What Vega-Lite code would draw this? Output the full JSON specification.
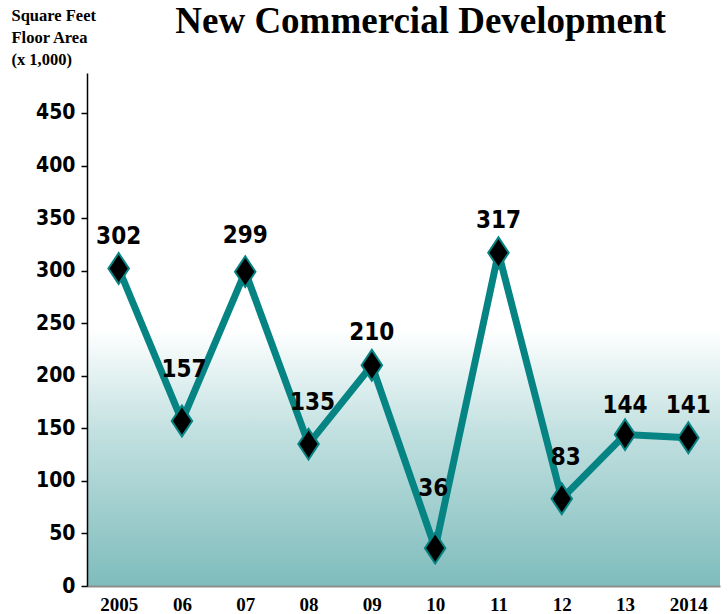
{
  "$schema": "https://vega.github.io/schema/vega-lite/v6.json",
  "autosize": "none",
  "width": 633,
  "height": 513,
  "padding": {"left": 87, "top": 73, "right": 8, "bottom": 28},
  "background": "white",
  "title": {
    "text": "New Commercial Development",
    "font": "Liberation Serif",
    "fontSize": 37,
    "fontWeight": "bold",
    "color": "black",
    "anchor": "middle",
    "dx": 17,
    "dy": 34,
    "offset": 0
  },
  "config": {
    "view": {
      "stroke": null,
      "fill": {
        "gradient": "linear",
        "x1": 0, "y1": 0, "x2": 0, "y2": 1,
        "stops": [
          {"offset": 0, "color": "#ffffff"},
          {"offset": 0.5, "color": "#ffffff"},
          {"offset": 0.7, "color": "#c2e0e0"},
          {"offset": 1, "color": "#7fbcbc"}
        ]
      }
    },
    "text": {
      "baseline": "middle",
      "font": "DejaVu Sans Condensed, Liberation Sans Narrow, sans-serif",
      "fontSize": 24,
      "fontWeight": "bold",
      "color": "black"
    }
  },
  "data": {
    "values": [
      {"year": "2005", "value": 302},
      {"year": "06", "value": 157},
      {"year": "07", "value": 299},
      {"year": "08", "value": 135},
      {"year": "09", "value": 210},
      {"year": "10", "value": 36},
      {"year": "11", "value": 317},
      {"year": "12", "value": 83},
      {"year": "13", "value": 144},
      {"year": "2014", "value": 141}
    ]
  },
  "encoding": {
    "x": {
      "field": "year",
      "type": "ordinal",
      "sort": null,
      "scale": {"type": "point", "padding": 0.5},
      "axis": {
        "title": null,
        "labelAngle": 0,
        "labelFont": "Liberation Serif",
        "labelFontSize": 19,
        "labelFontWeight": "bold",
        "labelColor": "black",
        "labelPadding": 9,
        "ticks": false,
        "domainColor": "#8c8c8c",
        "domainWidth": 2,
        "grid": false
      }
    },
    "y": {
      "field": "value",
      "type": "quantitative",
      "scale": {"domain": [0, 488], "nice": false},
      "axis": {
        "values": [0, 50, 100, 150, 200, 250, 300, 350, 400, 450],
        "grid": false,
        "title": ["Square Feet", "Floor Area", "\u00a0\u00a0(x 1,000)"],
        "titleFont": "Liberation Serif",
        "titleFontSize": 16.5,
        "titleFontWeight": "bold",
        "titleColor": "black",
        "titleAngle": 0,
        "titleAlign": "left",
        "titleBaseline": "top",
        "titleX": -76,
        "titleY": -66,
        "titleLineHeight": 22,
        "labelFont": "DejaVu Sans Condensed, Liberation Sans Narrow, sans-serif",
        "labelFontSize": 21,
        "labelFontWeight": "bold",
        "labelColor": "black",
        "labelPadding": 6,
        "tickSize": 6,
        "tickColor": "black",
        "tickWidth": 1.5,
        "domainColor": "black",
        "domainWidth": 1.5
      }
    }
  },
  "layer": [
    {
      "mark": {"type": "line", "color": "#068383", "strokeWidth": 7}
    },
    {
      "mark": {
        "type": "point",
        "shape": "M0,-1.5L1,0L0,1.5L-1,0Z",
        "size": 420,
        "filled": true,
        "fill": "black",
        "stroke": "#068383",
        "strokeWidth": 2,
        "opacity": 1
      }
    },
    {
      "transform": [{"filter": {"field": "year", "oneOf": ["2005", "09", "11", "2014"]}}],
      "mark": {"type": "text", "dy": -32},
      "encoding": {"text": {"field": "value", "type": "quantitative"}}
    },
    {
      "transform": [{"filter": {"field": "year", "oneOf": ["13"]}}],
      "mark": {"type": "text", "dy": -29},
      "encoding": {"text": {"field": "value", "type": "quantitative"}}
    },
    {
      "transform": [{"filter": {"field": "year", "oneOf": ["07"]}}],
      "mark": {"type": "text", "dy": -36},
      "encoding": {"text": {"field": "value", "type": "quantitative"}}
    },
    {
      "transform": [{"filter": {"field": "year", "oneOf": ["08", "12"]}}],
      "mark": {"type": "text", "dy": -41, "dx": 4},
      "encoding": {"text": {"field": "value", "type": "quantitative"}}
    },
    {
      "transform": [{"filter": {"field": "year", "oneOf": ["06"]}}],
      "mark": {"type": "text", "dy": -51, "dx": 2},
      "encoding": {"text": {"field": "value", "type": "quantitative"}}
    },
    {
      "transform": [{"filter": {"field": "year", "oneOf": ["10"]}}],
      "mark": {"type": "text", "dy": -59, "dx": -2},
      "encoding": {"text": {"field": "value", "type": "quantitative"}}
    }
  ]
}
